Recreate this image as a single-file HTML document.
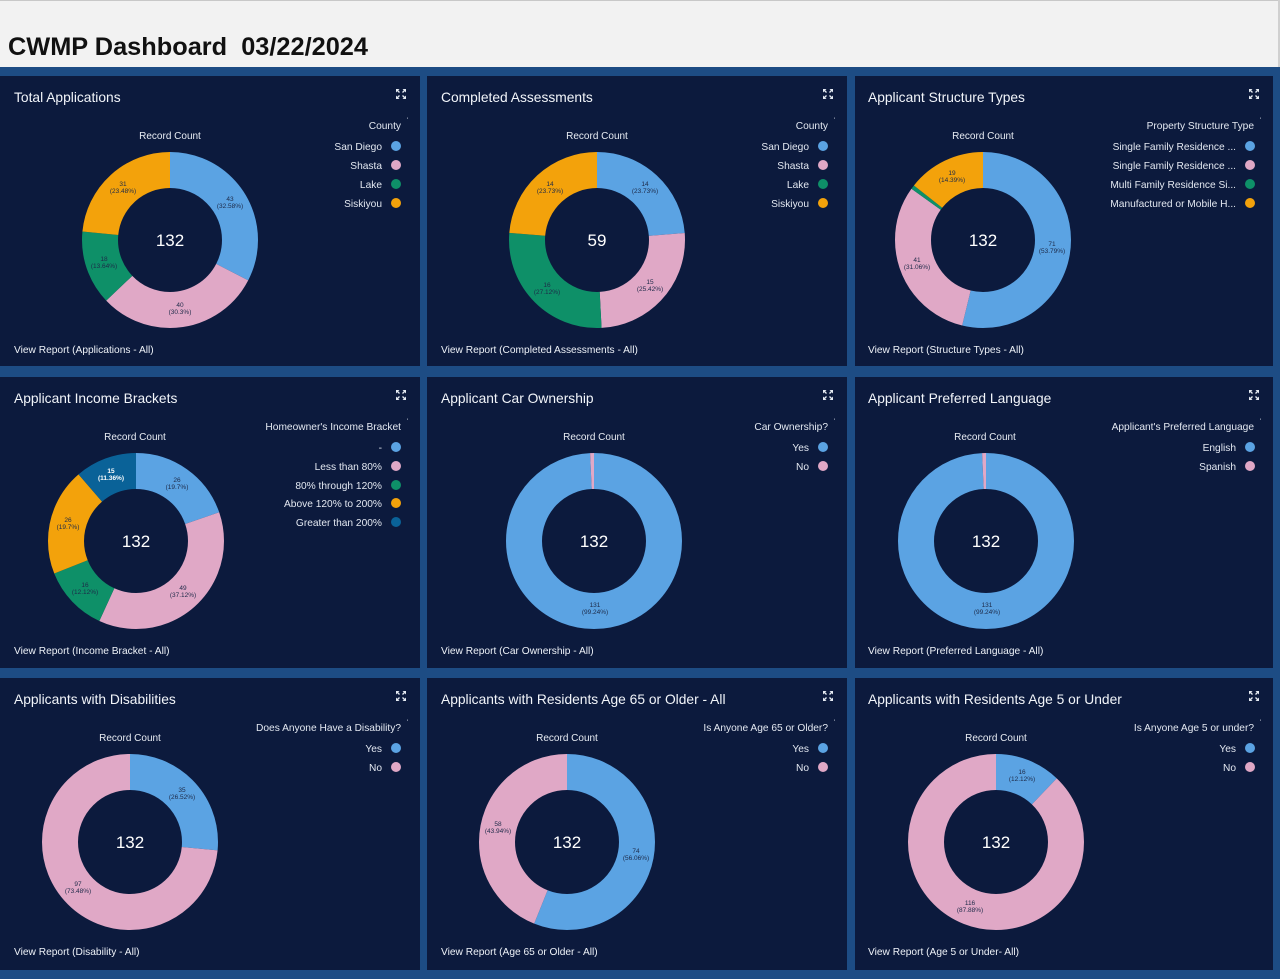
<!DOCTYPE html>
<html><head><meta charset="utf-8"><style>
html,body{margin:0;padding:0;background:#1d4c84;}
svg{display:block;}
</style></head><body>
<svg width="1280" height="979" viewBox="0 0 1280 979" xmlns="http://www.w3.org/2000/svg" font-family="'Liberation Sans', Arial, sans-serif">
<defs>
<g id="exp" fill="#e6ebf3" stroke="#e6ebf3" stroke-width="1.3">
<polygon points="-5,-5 -1.5,-5 -5,-1.5" stroke="none"/>
<polygon points="5,-5 1.5,-5 5,-1.5" stroke="none"/>
<polygon points="-5,5 -1.5,5 -5,1.5" stroke="none"/>
<polygon points="5,5 1.5,5 5,1.5" stroke="none"/>
<line x1="-4" y1="-4" x2="-1.5" y2="-1.5"/><line x1="4" y1="-4" x2="1.5" y2="-1.5"/>
<line x1="-4" y1="4" x2="-1.5" y2="1.5"/><line x1="4" y1="4" x2="1.5" y2="1.5"/>
</g>
</defs>
<rect x="0" y="0" width="1280" height="979" fill="#1d4c84"/>
<!-- header -->
<rect x="0" y="0" width="1280" height="67" fill="#f2f2f2"/>
<rect x="0" y="0" width="1280" height="1" fill="#c8c8c8"/>
<rect x="1278" y="0" width="2" height="67" fill="#d0d0d0"/>
<text x="8" y="55" font-size="25" font-weight="bold" fill="#111" textLength="360" lengthAdjust="spacingAndGlyphs">CWMP Dashboard&#160;&#160;03/22/2024</text>

<!-- panels -->
<g fill="#0c1a3d">
<rect x="0" y="76" width="420" height="290"/>
<rect x="427" y="76" width="420" height="290"/>
<rect x="855" y="76" width="418" height="290"/>
<rect x="0" y="377" width="420" height="291"/>
<rect x="427" y="377" width="420" height="291"/>
<rect x="855" y="377" width="418" height="291"/>
<rect x="0" y="678" width="420" height="292"/>
<rect x="427" y="678" width="420" height="292"/>
<rect x="855" y="678" width="418" height="292"/>
</g>

<!-- titles -->
<g fill="#f2f5fa" font-size="13.8">
<text x="14" y="102">Total Applications</text>
<text x="441" y="102">Completed Assessments</text>
<text x="868" y="102">Applicant Structure Types</text>
<text x="14" y="403">Applicant Income Brackets</text>
<text x="441" y="403">Applicant Car Ownership</text>
<text x="868" y="403">Applicant Preferred Language</text>
<text x="14" y="704">Applicants with Disabilities</text>
<text x="441" y="704">Applicants with Residents Age 65 or Older - All</text>
<text x="868" y="704">Applicants with Residents Age 5 or Under</text>
</g>
<use href="#exp" x="401" y="94"/><use href="#exp" x="828" y="94"/><use href="#exp" x="1254" y="94"/>
<use href="#exp" x="401" y="395"/><use href="#exp" x="828" y="395"/><use href="#exp" x="1254" y="395"/>
<use href="#exp" x="401" y="696"/><use href="#exp" x="828" y="696"/><use href="#exp" x="1254" y="696"/>

<!-- view report -->
<g fill="#eef2f8" font-size="10.2">
<text x="14" y="353">View Report (Applications - All)</text>
<text x="441" y="353">View Report (Completed Assessments - All)</text>
<text x="868" y="353">View Report (Structure Types - All)</text>
<text x="14" y="654">View Report (Income Bracket - All)</text>
<text x="441" y="654">View Report (Car Ownership - All)</text>
<text x="868" y="654">View Report (Preferred Language - All)</text>
<text x="14" y="955">View Report (Disability - All)</text>
<text x="441" y="955">View Report (Age 65 or Older - All)</text>
<text x="868" y="955">View Report (Age 5 or Under- All)</text>
</g>

<!-- Record Count labels -->
<g fill="#e8ecf3" font-size="10" text-anchor="middle">
<text x="170" y="139">Record Count</text>
<text x="597" y="139">Record Count</text>
<text x="983" y="139">Record Count</text>
<text x="135" y="440">Record Count</text>
<text x="594" y="440">Record Count</text>
<text x="985" y="440">Record Count</text>
<text x="130" y="741">Record Count</text>
<text x="567" y="741">Record Count</text>
<text x="996" y="741">Record Count</text>
</g>

<!-- Legends -->
<g font-size="10.2" fill="#e3e8f1" text-anchor="end">
<!-- p1 -->
<text x="401" y="129">County</text><text x="408" y="122" font-size="6">'</text>
<text x="382" y="150">San Diego</text><circle cx="396" cy="146" r="5" fill="#5ba3e3"/>
<text x="382" y="169">Shasta</text><circle cx="396" cy="165" r="5" fill="#e0a8c6"/>
<text x="382" y="188">Lake</text><circle cx="396" cy="184" r="5" fill="#0e9068"/>
<text x="382" y="207">Siskiyou</text><circle cx="396" cy="203" r="5" fill="#f3a20b"/>
<!-- p2 -->
<text x="828" y="129">County</text><text x="835" y="122" font-size="6">'</text>
<text x="809" y="150">San Diego</text><circle cx="823" cy="146" r="5" fill="#5ba3e3"/>
<text x="809" y="169">Shasta</text><circle cx="823" cy="165" r="5" fill="#e0a8c6"/>
<text x="809" y="188">Lake</text><circle cx="823" cy="184" r="5" fill="#0e9068"/>
<text x="809" y="207">Siskiyou</text><circle cx="823" cy="203" r="5" fill="#f3a20b"/>
<!-- p3 -->
<text x="1254" y="129">Property Structure Type</text><text x="1261" y="122" font-size="6">'</text>
<text x="1236" y="150">Single Family Residence ...</text><circle cx="1250" cy="146" r="5" fill="#5ba3e3"/>
<text x="1236" y="169">Single Family Residence ...</text><circle cx="1250" cy="165" r="5" fill="#e0a8c6"/>
<text x="1236" y="188">Multi Family Residence Si...</text><circle cx="1250" cy="184" r="5" fill="#0e9068"/>
<text x="1236" y="207">Manufactured or Mobile H...</text><circle cx="1250" cy="203" r="5" fill="#f3a20b"/>
<!-- p4 -->
<text x="401" y="430">Homeowner's Income Bracket</text><text x="408" y="423" font-size="6">'</text>
<text x="382" y="451">-</text><circle cx="396" cy="447" r="5" fill="#5ba3e3"/>
<text x="382" y="470">Less than 80%</text><circle cx="396" cy="466" r="5" fill="#e0a8c6"/>
<text x="382" y="489">80% through 120%</text><circle cx="396" cy="485" r="5" fill="#0e9068"/>
<text x="382" y="507">Above 120% to 200%</text><circle cx="396" cy="503" r="5" fill="#f3a20b"/>
<text x="382" y="526">Greater than 200%</text><circle cx="396" cy="522" r="5" fill="#0a6298"/>
<!-- p5 -->
<text x="828" y="430">Car Ownership?</text><text x="835" y="423" font-size="6">'</text>
<text x="809" y="451">Yes</text><circle cx="823" cy="447" r="5" fill="#5ba3e3"/>
<text x="809" y="470">No</text><circle cx="823" cy="466" r="5" fill="#e0a8c6"/>
<!-- p6 -->
<text x="1254" y="430">Applicant's Preferred Language</text><text x="1261" y="423" font-size="6">'</text>
<text x="1236" y="451">English</text><circle cx="1250" cy="447" r="5" fill="#5ba3e3"/>
<text x="1236" y="470">Spanish</text><circle cx="1250" cy="466" r="5" fill="#e0a8c6"/>
<!-- p7 -->
<text x="401" y="731">Does Anyone Have a Disability?</text><text x="408" y="724" font-size="6">'</text>
<text x="382" y="752">Yes</text><circle cx="396" cy="748" r="5" fill="#5ba3e3"/>
<text x="382" y="771">No</text><circle cx="396" cy="767" r="5" fill="#e0a8c6"/>
<!-- p8 -->
<text x="828" y="731">Is Anyone Age 65 or Older?</text><text x="835" y="724" font-size="6">'</text>
<text x="809" y="752">Yes</text><circle cx="823" cy="748" r="5" fill="#5ba3e3"/>
<text x="809" y="771">No</text><circle cx="823" cy="767" r="5" fill="#e0a8c6"/>
<!-- p9 -->
<text x="1254" y="731">Is Anyone Age 5 or under?</text><text x="1261" y="724" font-size="6">'</text>
<text x="1236" y="752">Yes</text><circle cx="1250" cy="748" r="5" fill="#5ba3e3"/>
<text x="1236" y="771">No</text><circle cx="1250" cy="767" r="5" fill="#e0a8c6"/>
</g>

<!-- Donuts -->
<g fill="none" stroke-width="36">
<g transform="rotate(-90 170 240)">
<circle cx="170" cy="240" r="70" stroke="#5ba3e3" stroke-dasharray="143.28 600" stroke-dashoffset="0"/>
<circle cx="170" cy="240" r="70" stroke="#e0a8c6" stroke-dasharray="133.28 600" stroke-dashoffset="-143.28"/>
<circle cx="170" cy="240" r="70" stroke="#0e9068" stroke-dasharray="59.98 600" stroke-dashoffset="-276.56"/>
<circle cx="170" cy="240" r="70" stroke="#f3a20b" stroke-dasharray="103.29 600" stroke-dashoffset="-336.54"/>
</g>
<g transform="rotate(-90 597 240)">
<circle cx="597" cy="240" r="70" stroke="#5ba3e3" stroke-dasharray="104.36 600" stroke-dashoffset="0"/>
<circle cx="597" cy="240" r="70" stroke="#e0a8c6" stroke-dasharray="111.82 600" stroke-dashoffset="-104.36"/>
<circle cx="597" cy="240" r="70" stroke="#0e9068" stroke-dasharray="119.27 600" stroke-dashoffset="-216.18"/>
<circle cx="597" cy="240" r="70" stroke="#f3a20b" stroke-dasharray="104.37 600" stroke-dashoffset="-335.45"/>
</g>
<g transform="rotate(-90 983 240)">
<circle cx="983" cy="240" r="70" stroke="#5ba3e3" stroke-dasharray="236.57 600" stroke-dashoffset="0"/>
<circle cx="983" cy="240" r="70" stroke="#e0a8c6" stroke-dasharray="136.61 600" stroke-dashoffset="-236.57"/>
<circle cx="983" cy="240" r="70" stroke="#0e9068" stroke-dasharray="3.33 600" stroke-dashoffset="-373.18"/>
<circle cx="983" cy="240" r="70" stroke="#f3a20b" stroke-dasharray="63.31 600" stroke-dashoffset="-376.51"/>
</g>
<g transform="rotate(-90 136 541)">
<circle cx="136" cy="541" r="70" stroke="#5ba3e3" stroke-dasharray="86.63 600" stroke-dashoffset="0"/>
<circle cx="136" cy="541" r="70" stroke="#e0a8c6" stroke-dasharray="163.27 600" stroke-dashoffset="-86.63"/>
<circle cx="136" cy="541" r="70" stroke="#0e9068" stroke-dasharray="53.31 600" stroke-dashoffset="-249.90"/>
<circle cx="136" cy="541" r="70" stroke="#f3a20b" stroke-dasharray="86.63 600" stroke-dashoffset="-303.21"/>
<circle cx="136" cy="541" r="70" stroke="#0a6298" stroke-dasharray="49.98 600" stroke-dashoffset="-389.84"/>
</g>
<g transform="rotate(-90 594 541)">
<circle cx="594" cy="541" r="70" stroke="#5ba3e3" stroke-dasharray="436.49 600" stroke-dashoffset="0"/>
<circle cx="594" cy="541" r="70" stroke="#e0a8c6" stroke-dasharray="3.33 600" stroke-dashoffset="-436.49"/>
</g>
<g transform="rotate(-90 986 541)">
<circle cx="986" cy="541" r="70" stroke="#5ba3e3" stroke-dasharray="436.49 600" stroke-dashoffset="0"/>
<circle cx="986" cy="541" r="70" stroke="#e0a8c6" stroke-dasharray="3.33 600" stroke-dashoffset="-436.49"/>
</g>
<g transform="rotate(-90 130 842)">
<circle cx="130" cy="842" r="70" stroke="#5ba3e3" stroke-dasharray="116.62 600" stroke-dashoffset="0"/>
<circle cx="130" cy="842" r="70" stroke="#e0a8c6" stroke-dasharray="323.20 600" stroke-dashoffset="-116.62"/>
</g>
<g transform="rotate(-90 567 842)">
<circle cx="567" cy="842" r="70" stroke="#5ba3e3" stroke-dasharray="246.57 600" stroke-dashoffset="0"/>
<circle cx="567" cy="842" r="70" stroke="#e0a8c6" stroke-dasharray="193.26 600" stroke-dashoffset="-246.57"/>
</g>
<g transform="rotate(-90 996 842)">
<circle cx="996" cy="842" r="70" stroke="#5ba3e3" stroke-dasharray="53.31 600" stroke-dashoffset="0"/>
<circle cx="996" cy="842" r="70" stroke="#e0a8c6" stroke-dasharray="386.51 600" stroke-dashoffset="-53.31"/>
</g>
</g>

<!-- center numbers -->
<g fill="#ffffff" font-size="17" text-anchor="middle">
<text x="170" y="246">132</text>
<text x="597" y="246">59</text>
<text x="983" y="246">132</text>
<text x="136" y="547">132</text>
<text x="594" y="547">132</text>
<text x="986" y="547">132</text>
<text x="130" y="848">132</text>
<text x="567" y="848">132</text>
<text x="996" y="848">132</text>
</g>

<!-- slice labels -->
<g fill="#1d2a48" font-size="6.5" text-anchor="middle">
<text x="230" y="201">43</text><text x="230" y="208">(32.58%)</text>
<text x="180" y="307">40</text><text x="180" y="314">(30.3%)</text>
<text x="104" y="261">18</text><text x="104" y="268">(13.64%)</text>
<text x="123" y="186">31</text><text x="123" y="193">(23.48%)</text>

<text x="645" y="186">14</text><text x="645" y="193">(23.73%)</text>
<text x="650" y="284">15</text><text x="650" y="291">(25.42%)</text>
<text x="547" y="287">16</text><text x="547" y="294">(27.12%)</text>
<text x="550" y="186">14</text><text x="550" y="193">(23.73%)</text>

<text x="1052" y="246">71</text><text x="1052" y="253">(53.79%)</text>
<text x="917" y="262">41</text><text x="917" y="269">(31.06%)</text>
<text x="952" y="175">19</text><text x="952" y="182">(14.39%)</text>

<text x="177" y="482">26</text><text x="177" y="489">(19.7%)</text>
<text x="183" y="590">49</text><text x="183" y="597">(37.12%)</text>
<text x="85" y="587">16</text><text x="85" y="594">(12.12%)</text>
<text x="68" y="522">26</text><text x="68" y="529">(19.7%)</text>

<text x="595" y="607">131</text><text x="595" y="614">(99.24%)</text>
<text x="987" y="607">131</text><text x="987" y="614">(99.24%)</text>

<text x="182" y="792">35</text><text x="182" y="799">(26.52%)</text>
<text x="78" y="886">97</text><text x="78" y="893">(73.48%)</text>

<text x="636" y="853">74</text><text x="636" y="860">(56.06%)</text>
<text x="498" y="826">58</text><text x="498" y="833">(43.94%)</text>

<text x="1022" y="774">16</text><text x="1022" y="781">(12.12%)</text>
<text x="970" y="905">116</text><text x="970" y="912">(87.88%)</text>
</g>
<g fill="#ffffff" font-size="6.5" font-weight="bold" text-anchor="middle">
<text x="111" y="473">15</text><text x="111" y="480">(11.36%)</text>
</g>
</svg>
</body></html>
